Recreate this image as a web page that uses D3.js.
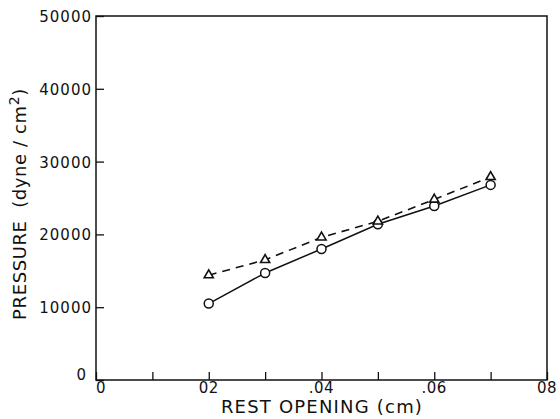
<!DOCTYPE html>
<html>
<head>
<meta charset="utf-8">
<script src="https://cdn.jsdelivr.net/npm/d3@7"></script>
<style>
  body { margin: 0; background: #fff; }
  text { font-family: 'DejaVu Sans', sans-serif; fill: #111; }
</style>
</head>
<body>
<div id="vis"></div>
<script>
// data
const openings = [0.02, 0.03, 0.04, 0.05, 0.06, 0.07];
const circlePressure = [10500, 14700, 18000, 21400, 23900, 26800];
const trianglePressure = [14400, 16500, 19600, 21800, 24800, 27900];
const xTicks = [0, 0.01, 0.02, 0.03, 0.04, 0.05, 0.06, 0.07, 0.08];
const xTickLabels = { 0: '0', 0.02: '02', 0.04: '.04', 0.06: '.06', 0.08: '08' };
const yTicks = [0, 10000, 20000, 30000, 40000, 50000];

let margin = { top: 16, left: 96, right: 13, bottom: 39 },
  width = 560 - margin.left - margin.right,
  height = 419 - margin.top - margin.bottom;

let svg = d3
  .select('#vis')
  .append('svg')
  .attr('width', 560)
  .attr('height', 419);

const chart = svg
  .append('g')
  .attr('transform', `translate(${margin.left}, ${margin.top})`);

const xScale = d3.scaleLinear().domain([0, 0.08]).range([0, width]);
const yScale = d3.scaleLinear().domain([0, 50000]).range([height, 0]);

// frame
chart
  .append('rect')
  .attr('width', width)
  .attr('height', height)
  .attr('fill', 'none')
  .attr('stroke', '#111')
  .attr('stroke-width', 1.5);

// inside ticks
const xAxis = chart
  .append('g')
  .attr('transform', `translate(0, ${height})`)
  .call(d3.axisBottom(xScale).tickValues(xTicks).tickSize(-8).tickFormat(''));
xAxis.select('.domain').remove();
xAxis.selectAll('line').attr('stroke', '#111').attr('stroke-width', 1.3);

const yAxis = chart
  .append('g')
  .call(d3.axisLeft(yScale).tickValues(yTicks).tickSize(-8).tickFormat(''));
yAxis.select('.domain').remove();
yAxis.selectAll('line').attr('stroke', '#111').attr('stroke-width', 1.3);

// tick labels
chart
  .selectAll('.xlab')
  .data(xTicks.filter((t) => xTickLabels[t] !== undefined))
  .enter()
  .append('text')
  .attr('x', (t) => xScale(t))
  .attr('y', height + 13)
  .attr('text-anchor', (t) => (t === 0 ? 'start' : 'middle'))
  .style('font-size', '15px')
  .style('letter-spacing', '0.5px')
  .text((t) => xTickLabels[t]);

chart
  .selectAll('.ylab')
  .data(yTicks)
  .enter()
  .append('text')
  .attr('x', (t) => (t === 0 ? -9 : -4))
  .attr('y', (t) => (t === 0 ? yScale(t) : yScale(t) + 6))
  .attr('text-anchor', 'end')
  .style('font-size', '15px')
  .style('letter-spacing', '1px')
  .text((t) => t);

// lines
const line = d3
  .line()
  .x((d) => xScale(d[0]))
  .y((d) => yScale(d[1]));

const circleData = openings.map((o, i) => [o, circlePressure[i]]);
const triData = openings.map((o, i) => [o, trianglePressure[i]]);

chart
  .append('path')
  .datum(triData)
  .attr('d', line)
  .attr('fill', 'none')
  .attr('stroke', '#111')
  .attr('stroke-width', 1.6)
  .attr('stroke-dasharray', '8,6');

chart
  .append('path')
  .datum(circleData)
  .attr('d', line)
  .attr('fill', 'none')
  .attr('stroke', '#111')
  .attr('stroke-width', 1.5);

chart
  .selectAll('.circ')
  .data(circleData)
  .enter()
  .append('circle')
  .attr('cx', (d) => xScale(d[0]))
  .attr('cy', (d) => yScale(d[1]))
  .attr('r', 4.5)
  .attr('fill', '#fff')
  .attr('stroke', '#111')
  .attr('stroke-width', 1.5);

chart
  .selectAll('.tri')
  .data(triData)
  .enter()
  .append('path')
  .attr('transform', (d) => `translate(${xScale(d[0])}, ${yScale(d[1])})`)
  .attr('d', d3.symbol(d3.symbolTriangle, 36))
  .attr('fill', '#fff')
  .attr('stroke', '#111')
  .attr('stroke-width', 1.6);

// axis titles
svg
  .append('text')
  .attr('x', 322)
  .attr('y', 413)
  .attr('text-anchor', 'middle')
  .style('font-size', '18px')
  .style('letter-spacing', '1.2px')
  .text('REST OPENING (cm)');

const ytitle = svg
  .append('text')
  .attr('transform', `translate(26, 204) rotate(-90)`)
  .attr('text-anchor', 'middle')
  .style('font-size', '18px')
  .style('letter-spacing', '0.6px');
ytitle.append('tspan').text('PRESSURE\u00a0 (dyne / cm');
ytitle.append('tspan').attr('dy', -7).style('font-size', '14px').text('2');
ytitle.append('tspan').attr('dy', 7).text(')');
</script>
</body>
</html>
